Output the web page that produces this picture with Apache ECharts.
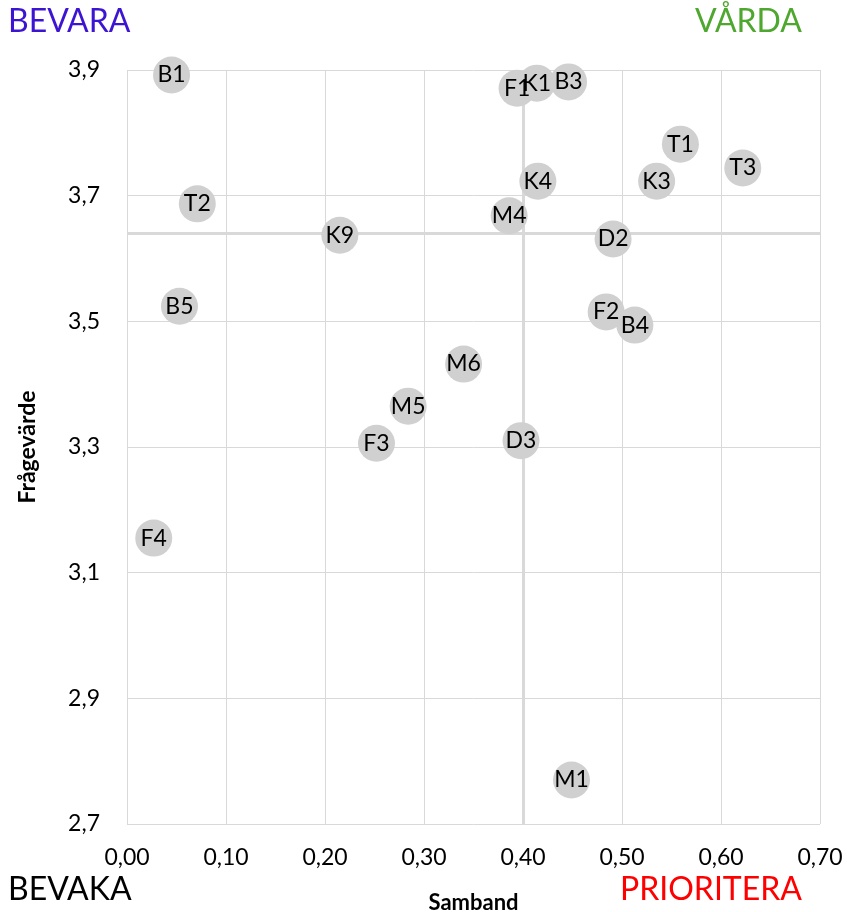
<!DOCTYPE html>
<html>
<head>
<meta charset="utf-8">
<script src="https://cdn.jsdelivr.net/npm/echarts@6/dist/echarts.min.js"></script>
<style>
  html, body { margin: 0; padding: 0; background: #fff; }
  #chart { width: 847px; height: 912px; }
</style>
</head>
<body>
<div id="chart"></div>
<script>
// frågor
var names = ['B1', 'F1', 'K1', 'B3', 'T1', 'T3', 'K3', 'K4', 'T2', 'M4', 'K9', 'D2', 'B5', 'F2', 'B4', 'M6', 'M5', 'F3', 'D3', 'F4', 'M1'];
// samband (x)
var samband = [0.045, 0.394, 0.414, 0.446, 0.559, 0.622, 0.535, 0.415, 0.071, 0.386, 0.215, 0.491, 0.053, 0.484, 0.513, 0.340, 0.284, 0.252, 0.398, 0.027, 0.449];
// frågevärde (y)
var fragevarde = [3.892, 3.871, 3.879, 3.881, 3.782, 3.744, 3.723, 3.723, 3.687, 3.668, 3.637, 3.631, 3.524, 3.515, 3.494, 3.432, 3.365, 3.306, 3.310, 3.155, 2.770];
// referenslinjer
var refX = 0.40;
var refY = 3.64;

var font = 'Lato, "Open Sans", sans-serif';

var points = names.map(function (n, i) {
    return { name: n, value: [samband[i], fragevarde[i]] };
});

var chart = echarts.init(document.getElementById('chart'));
var option = {
    animation: false,
    grid: { left: 127, right: 27, top: 70, bottom: 88, outerBoundsMode: 'none', containLabel: false },
    graphic: [
        { type: 'text', left: 8, top: 6, style: { text: 'BEVARA', fill: '#3c14d2', font: '32px ' + font } },
        { type: 'text', right: 45, top: 6, style: { text: 'VÅRDA', fill: '#4ea72e', font: '32px ' + font } },
        { type: 'text', left: 8, top: 874, style: { text: 'BEVAKA', fill: '#000', font: '32px ' + font } },
        { type: 'text', left: 620, top: 874, style: { text: 'PRIORITERA', fill: '#ff0000', font: '32px ' + font } }
    ],
    xAxis: {
        type: 'value',
        min: 0, max: 0.7, interval: 0.1,
        name: 'Samband',
        nameLocation: 'middle',
        nameGap: 68,
        nameTextStyle: { fontFamily: font, fontWeight: 'bold', fontSize: 22, color: '#000' },
        axisLine: { show: false },
        axisTick: { show: false },
        axisLabel: {
            margin: 22, fontFamily: font, fontSize: 23, color: '#000',
            formatter: function (v) { return v.toFixed(2).replace('.', ','); }
        },
        splitLine: { lineStyle: { color: '#d9d9d9', width: 1 } }
    },
    yAxis: {
        type: 'value',
        min: 2.7, max: 3.9, interval: 0.2,
        name: 'Frågevärde',
        nameLocation: 'middle',
        nameGap: 88,
        nameTextStyle: { fontFamily: font, fontWeight: 'bold', fontSize: 23, color: '#000' },
        axisLine: { show: false },
        axisTick: { show: false },
        axisLabel: {
            margin: 27, fontFamily: font, fontSize: 23, color: '#000',
            formatter: function (v) { return v.toFixed(1).replace('.', ','); }
        },
        splitLine: { lineStyle: { color: '#d9d9d9', width: 1 } }
    },
    series: [{
        // bara referenslinjerna, under punkterna
        type: 'scatter',
        data: [],
        z: 1,
        markLine: {
            z: 1,
            silent: true,
            symbol: 'none',
            label: { show: false },
            lineStyle: { color: '#d9d9d9', width: 3, type: 'solid' },
            data: [{ xAxis: refX }, { yAxis: refY }]
        }
    }, {
        type: 'scatter',
        data: points,
        z: 3,
        symbolSize: 37,
        itemStyle: { color: '#d0d0d0', opacity: 1 },
        label: {
            show: true, position: 'inside',
            formatter: '{b}',
            fontFamily: font, fontSize: 23, color: '#000'
        }
    }]
};
chart.setOption(option);
</script>
</body>
</html>
